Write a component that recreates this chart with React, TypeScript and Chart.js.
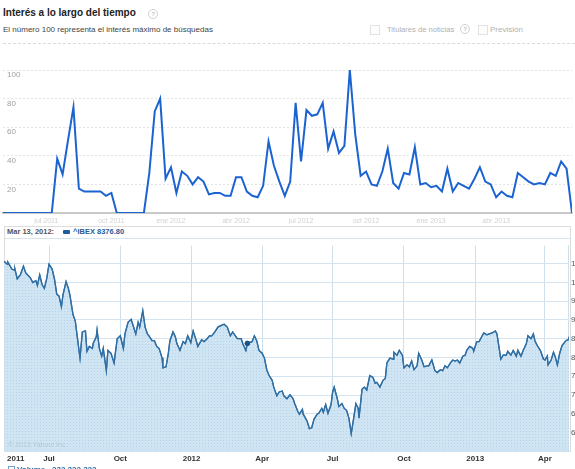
import React, { useEffect, useRef } from 'react';
import { Chart, registerables } from 'chart.js';

Chart.register(...registerables);

// ---- Google Trends: weekly interest (0-100) ----
const trendValues = [
  0, 0, 0, 0, 0, 0, 0, 0, 0, 0,
  38, 27, 51, 74, 17, 15, 15, 15, 15, 12,
  14, 0, 0, 0, 0, 0, 0, 28, 71, 80,
  24, 32, 14, 29, 26, 20, 25, 22, 13, 14,
  14, 12, 12, 25, 25, 15, 12, 11, 19, 50,
  33, 22, 12, 22, 77, 36, 72, 68, 69, 77,
  45, 57, 42, 47, 100, 55, 26, 29, 20, 19,
  29, 45, 21, 17, 28, 27, 46, 20, 21, 18,
  19, 15, 31, 15, 21, 19, 17, 24, 32, 22,
  20, 11, 15, 12, 11, 28, 25, 22, 20, 21,
  20, 28, 26, 36, 31, 0,
];
const trendTickIdx = [8, 20, 31, 43, 55, 67, 79, 91];
const trendTickLabels = ['jul 2011', 'oct 2011', 'ene 2012', 'abr 2012', 'jul 2012', 'oct 2012', 'ene 2013', 'abr 2013'];
const trendYTicks = [0, 20, 40, 60, 80, 100];

// ---- Yahoo: ^IBEX close (days counted from 2011-05-01) ----
const ibexDays = [
  3, 7, 8, 13, 16, 17, 20, 24, 28, 31,
  37, 40, 44, 46, 49, 52, 55, 58, 61, 65,
  68, 71, 74, 77, 79, 83, 86, 88, 92, 95,
  97, 101, 104, 108, 110, 113, 117, 118, 122, 123,
  126, 129, 131, 135, 137, 141, 145, 149, 153, 157,
  159, 163, 167, 169, 173, 176, 178, 182, 185, 188,
  190, 194, 197, 200, 203, 207, 208, 212, 215, 217,
  221, 224, 226, 230, 234, 237, 240, 244, 247, 251,
  253, 258, 261, 265, 268, 271, 275, 279, 284, 287,
  291, 295, 298, 304, 309, 311, 315, 317, 323, 326,
  329, 332, 336, 339, 342, 345, 349, 351, 355, 358,
  362, 364, 368, 372, 376, 378, 382, 384, 388, 389,
  394, 397, 400, 403, 407, 409, 413, 415, 418, 421,
  425, 427, 429, 433, 435, 439, 442, 445, 448, 451,
  453, 457, 460, 461, 465, 468, 471, 475, 479, 482,
  484, 488, 492, 495, 497, 501, 505, 506, 510, 513,
  517, 519, 523, 526, 529, 532, 536, 538, 542, 545,
  549, 551, 555, 559, 562, 566, 569, 572, 575, 579,
  582, 585, 588, 591, 595, 598, 600, 604, 608, 609,
  613, 616, 620, 622, 626, 629, 633, 637, 639, 640,
  644, 647, 651, 653, 657, 660, 664, 666, 670, 673,
  677, 679, 683, 686, 688, 691, 695, 699, 701, 704,
  705, 709, 712, 714, 717, 720, 723, 726, 728, 731, 732,
];
const ibexValues = [
  10561, 10484, 10536, 10355, 10329, 10355, 10097, 10200, 10432, 10252,
  10123, 9994, 10046, 9917, 10200, 9943, 9840, 10097, 10484, 10355,
  10097, 9685, 9634, 9350, 9659, 10020, 9840, 9659, 9144, 8964,
  8629, 7984, 8680, 8706, 8165, 8294, 8242, 8371, 8551, 8732,
  8242, 8036, 8242, 7649, 8190, 8113, 7855, 8500, 8577, 8242,
  8629, 8938, 9015, 8886, 8629, 8938, 8809, 9247, 8809, 8629,
  8577, 8448, 8448, 8294, 8242, 7984, 7726, 7752, 8113, 8448,
  8680, 8551, 8371, 8190, 8422, 8371, 8577, 8397, 8706, 8448,
  8294, 8474, 8422, 8500, 8577, 8577, 8680, 8809, 8860, 8886,
  8809, 8577, 8680, 8500, 8500, 8371, 8190, 8377, 8422, 8577,
  8448, 8190, 8113, 7984, 7675, 7520, 7392, 7211, 6979, 7082,
  7108, 6979, 6902, 7005, 6902, 6773, 6567, 6490, 6618, 6490,
  6309, 6103, 6129, 6361, 6490, 6515, 6644, 6541, 6747, 6515,
  6747, 7082, 7211, 6902, 6696, 6773, 6644, 6593, 6387, 5974,
  6232, 6773, 6644, 6387, 7160, 7211, 7134, 7520, 7469, 7314,
  7340, 7211, 7392, 7443, 7855, 7984, 7959, 8139, 8062, 8190,
  8062, 7726, 7804, 7752, 7907, 7675, 7778, 8113, 7933, 7752,
  7778, 7778, 7933, 7649, 7598, 7675, 7649, 7778, 7726, 7855,
  7933, 7907, 7933, 7855, 8036, 8062, 8190, 8294, 8242, 8165,
  8422, 8422, 8577, 8654, 8603, 8629, 8654, 8706, 8629, 8500,
  7959, 8062, 8062, 8165, 8062, 8190, 8036, 8190, 8036, 8190,
  8371, 8577, 8500, 8629, 8448, 8319, 8190, 7959, 7933, 8036,
  7804, 7933, 8139, 8036, 7804, 8113, 8319, 8397, 8448, 8474, 8551,
];
const selectedDay = 317; // Mar 13, 2012
const ibexTickDays = [18, 61, 153, 245, 336, 427, 519, 611, 701];
const ibexTickLabels = ['2011', 'Jul', 'Oct', '2012', 'Apr', 'Jul', 'Oct', '2013', 'Apr'];
const ibexYTicks = [6000, 6500, 7000, 7500, 8000, 8500, 9000, 9500, 10000, 10500];

const SANS = '"Liberation Sans", Arial, sans-serif';

export default function App() {
  const topRef = useRef<HTMLCanvasElement>(null);
  const botRef = useRef<HTMLCanvasElement>(null);

  useEffect(() => {
    const topChart = new Chart(topRef.current!, {
      type: 'line',
      data: {
        datasets: [{
          data: trendValues.map((v, i) => ({ x: i, y: v })),
          borderColor: '#1c63d2',
          borderWidth: 2,
          pointRadius: 0,
          tension: 0,
          fill: false,
        }],
      },
      options: {
        animation: false,
        responsive: false,
        layout: { padding: { left: 0, right: 3, top: 24, bottom: 2 } },
        plugins: { legend: { display: false }, tooltip: { enabled: false } },
        scales: {
          x: {
            type: 'linear', min: 0, max: trendValues.length - 1,
            afterBuildTicks: (s: any) => { s.ticks = trendTickIdx.map((v) => ({ value: v })); },
            afterFit: (s: any) => { s.height = 11; },
            ticks: {
              autoSkip: false, maxRotation: 0, padding: 4, color: '#d2d2d2',
              font: { size: 7, family: SANS },
              callback: (v: any) => { const k = trendTickIdx.indexOf(Number(v)); return k >= 0 ? trendTickLabels[k] : ''; },
            },
            grid: { display: false, drawTicks: false },
            border: { display: true, color: '#c9c9c9', width: 2 },
          },
          y: {
            min: 0, max: 100,
            afterBuildTicks: (s: any) => { s.ticks = trendYTicks.map((v) => ({ value: v })); },
            afterFit: (s: any) => { s.width = 4; },
            ticks: {
              mirror: true, padding: 4, labelOffset: 5, color: '#a0a0a0',
              font: { size: 8, family: SANS },
              callback: (v: any) => (Number(v) === 0 ? '' : String(v)),
            },
            grid: {
              drawTicks: false,
              color: (c: any) => (c.tick && c.tick.value === 0 ? 'rgba(0,0,0,0)' : '#e4e4e4'),
            },
            border: { display: false, dash: [2, 2] },
          },
        },
      },
    } as any);

    // dotted fill pattern for the area
    const pc = document.createElement('canvas');
    pc.width = 3; pc.height = 3;
    const pctx = pc.getContext('2d')!;
    pctx.fillStyle = 'rgb(208,229,243)';
    pctx.fillRect(0, 0, 3, 3);
    pctx.fillStyle = 'rgb(184,211,231)';
    pctx.fillRect(0, 0, 1, 1);
    const pattern = botRef.current!.getContext('2d')!.createPattern(pc, 'repeat');

    const redrawLine = {
      id: 'redrawLine',
      afterDraw(chart: any) {
        const meta = chart.getDatasetMeta(0);
        const ctx = chart.ctx;
        const a = chart.chartArea;
        ctx.save();
        ctx.beginPath();
        ctx.rect(a.left, a.top - 3, a.right - a.left, a.bottom - a.top + 6);
        ctx.clip();
        meta.dataset.draw(ctx, a);
        meta.data.forEach((p: any) => p.draw(ctx, a));
        ctx.restore();
      },
    };

    const n = Math.min(ibexDays.length, ibexValues.length);
    const ibexPoints = [];
    for (let i = 0; i < n; i++) ibexPoints.push({ x: ibexDays[i], y: ibexValues[i] });

    const botChart = new Chart(botRef.current!, {
      type: 'line',
      data: {
        datasets: [{
          data: ibexPoints,
          borderColor: '#306fa4',
          borderWidth: 1.3,
          backgroundColor: pattern,
          fill: 'start',
          tension: 0,
          pointRadius: (c: any) => (ibexDays[c.dataIndex] === selectedDay ? 2.6 : 0),
          pointBackgroundColor: '#1d5285',
          pointBorderWidth: 0,
        }],
      },
      options: {
        animation: false,
        responsive: false,
        layout: { padding: 0 },
        plugins: { legend: { display: false }, tooltip: { enabled: false } },
        scales: {
          x: {
            type: 'linear', min: 3, max: 732, z: 1,
            afterBuildTicks: (s: any) => { s.ticks = ibexTickDays.map((v) => ({ value: v })); },
            afterFit: (s: any) => { s.height = 14; },
            ticks: {
              autoSkip: false, maxRotation: 0, padding: 3, color: '#333',
              font: { size: 8, weight: 'bold', family: SANS },
              callback: (v: any) => { const k = ibexTickDays.indexOf(Number(v)); return k >= 0 ? ibexTickLabels[k] : ''; },
            },
            grid: {
              drawTicks: false,
              color: (c: any) => (c.tick && c.tick.value === ibexTickDays[0] ? 'rgba(0,0,0,0)' : '#cde0ee'),
            },
            border: { display: true, color: '#cde0ee' },
          },
          y: {
            position: 'right', min: 5510, max: 10974, z: 1,
            afterBuildTicks: (s: any) => { s.ticks = ibexYTicks.map((v) => ({ value: v })); },
            afterFit: (s: any) => { s.width = 40; },
            ticks: {
              padding: 2, color: '#555',
              font: { size: 8, family: SANS },
              callback: (v: any) => Number(v).toLocaleString('en-US'),
            },
            grid: { drawTicks: false, color: '#d3e4f0' },
            border: { display: true, color: '#cde0ee' },
          },
        },
      },
      plugins: [redrawLine],
    } as any);

    return () => { topChart.destroy(); botChart.destroy(); };
  }, []);

  const abs = (o: any) => ({ position: 'absolute', ...o } as React.CSSProperties);
  const qmark = (left: number, top: number) => (
    <div style={abs({ left, top, width: 8, height: 8, borderRadius: '50%', border: '1px solid #d0d0d0', color: '#c0c0c0', fontSize: 6, lineHeight: '8px', textAlign: 'center', fontWeight: 'bold' })}>?</div>
  );
  const checkbox = (left: number, top: number) => (
    <div style={abs({ left, top, width: 8, height: 8, border: '1px solid #e2e2e2', background: '#fdfdfd' })} />
  );

  return (
    <div style={{ position: 'fixed', left: 0, top: 0, width: 575, height: 469, overflow: 'hidden', background: '#fff', fontFamily: SANS }}>
      <div style={abs({ left: 3, top: 7, fontSize: 10, lineHeight: '12px', fontWeight: 'bold', color: '#222', whiteSpace: 'nowrap' })}>Interés a lo largo del tiempo</div>
      {qmark(148, 9)}
      <div style={abs({ left: 3, top: 25, fontSize: 8, lineHeight: '10px', color: '#444', whiteSpace: 'nowrap' })}>El número 100 representa el interés máximo de búsquedas</div>
      {checkbox(370, 25)}
      <div style={abs({ left: 387, top: 25, fontSize: 7.6, lineHeight: '10px', color: '#b0b0b0', whiteSpace: 'nowrap' })}>Titulares de noticias</div>
      {qmark(460, 24)}
      {checkbox(478, 25)}
      <div style={abs({ left: 490, top: 25, fontSize: 8, lineHeight: '10px', color: '#b0b0b0', whiteSpace: 'nowrap' })}>Previsión</div>
      <div style={abs({ left: 3, top: 43, width: 572, height: 0, borderTop: '1px dashed #dadada' })} />

      <canvas ref={topRef} width={576} height={180} style={abs({ left: -1, top: 46 })} />

      <div style={abs({ left: 4, top: 226, width: 567, height: 226, boxSizing: 'border-box', border: '1px solid #dcdcdc' })} />
      <div style={abs({ left: 5, top: 238, width: 565, height: 0, borderTop: '1px solid #d6e4ee' })} />
      <div style={abs({ left: 7, top: 227, fontSize: 7.5, lineHeight: '10px', fontWeight: 'bold', color: '#555', whiteSpace: 'nowrap' })}>Mar 13, 2012:</div>
      <div style={abs({ left: 63, top: 230, width: 7, height: 4, borderRadius: 1, background: '#1f5c99' })} />
      <div style={abs({ left: 73, top: 227, fontSize: 7.5, lineHeight: '10px', fontWeight: 'bold', color: '#1f5d99', whiteSpace: 'nowrap' })}>^IBEX 8376.80</div>

      <canvas ref={botRef} width={605} height={226} style={abs({ left: 4, top: 239 })} />

      <div style={abs({ left: 8, top: 440, fontSize: 7, lineHeight: '10px', color: '#b3c7d8', whiteSpace: 'nowrap' })}>© 2013 Yahoo! Inc.</div>
      <div style={abs({ left: 8, top: 466, width: 5, height: 5, border: '1px solid #6d9fca' })} />
      <div style={abs({ left: 17, top: 465, fontSize: 8, lineHeight: '10px', fontWeight: 'bold', color: '#2a6aa5', whiteSpace: 'nowrap' })}>Volume</div>
      <div style={abs({ left: 52, top: 465, fontSize: 8, lineHeight: '10px', fontWeight: 'bold', color: '#2a6aa5', whiteSpace: 'nowrap' })}>232,322,322</div>
    </div>
  );
}
